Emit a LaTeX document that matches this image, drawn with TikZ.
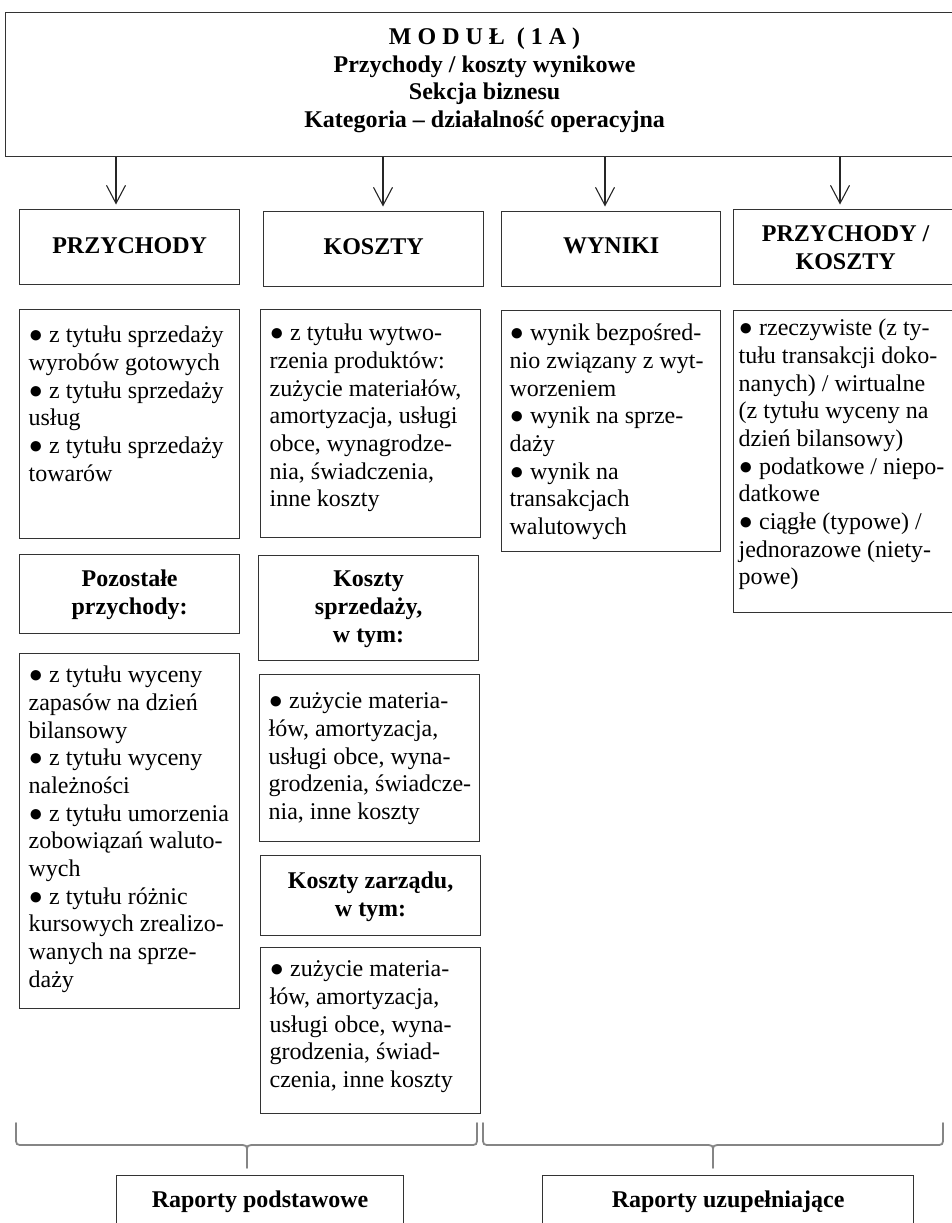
\documentclass[tikz,border=0pt]{standalone}
\usepackage{fontspec}
\setmainfont{Liberation Serif}
\usetikzlibrary{arrows.meta}

\definecolor{linec}{HTML}{333333}
\definecolor{bracec}{HTML}{858585}

% text cells: width, height, first baseline from top, (left pad), text
\newcommand\leftcell[5]{%
  \parbox[t][#2][t]{#1}{\raggedright\leftskip=#4\relax\rule{0pt}{#3}#5}}
\newcommand\midcell[4]{%
  \parbox[t][#2][t]{#1}{\centering\rule{0pt}{#3}#4}}
\newcommand\bul{●~}

\begin{document}
\begin{tikzpicture}[x=1pt,y=-1pt,
  frame/.style={draw=linec, line width=1.2pt, inner sep=0pt, anchor=north west,
                font=\fontsize{24}{27.7}\selectfont},
  head/.style={frame, font=\fontsize{24}{27.7}\selectfont\bfseries},
  arr/.style={draw=black!85, line width=1.1pt, shorten >=4.5pt,
              -{Straight Barb[length=18pt,width=19pt,line width=1.1pt]}},
  brace/.style={draw=bracec, line width=1.8pt, line cap=round}]
\useasboundingbox (0,0) rectangle (951,1223);

% module header
\node[head] (top) at (5,12) {\midcell{958pt}{144pt}{32pt}{%
  M O D U Ł \ ( 1 A )\\
  Przychody / koszty wynikowe\\
  Sekcja biznesu\\
  Kategoria – działalność operacyjna}};

% category headers
\node[head] (h1) at (19,209) {\midcell{220pt}{75pt}{44pt}{PRZYCHODY}};
\node[head] (h2) at (263,211) {\midcell{220pt}{75pt}{43pt}{KOSZTY}};
\node[head] (h3) at (501,211) {\midcell{219pt}{75pt}{42pt}{WYNIKI}};
\node[head] (h4) at (733,209) {\midcell{224pt}{75pt}{32pt}{PRZYCHODY /\\KOSZTY}};

% arrows from the module header
\coordinate (a1) at (116,0);
\coordinate (a2) at (383,0);
\coordinate (a3) at (605,0);
\coordinate (a4) at (840,0);
\draw[arr] (top.south -| a1) -- (h1.north -| a1);
\draw[arr] (top.south -| a2) -- (h2.north -| a2);
\draw[arr] (top.south -| a3) -- (h3.north -| a3);
\draw[arr] (top.south -| a4) -- (h4.north -| a4);

% column 1
\node[frame] (b1) at (19,309) {\leftcell{220pt}{229pt}{33pt}{9pt}{%
  \bul z tytułu sprzedaży\\
  wyrobów gotowych\\
  \bul z tytułu sprzedaży\\
  usług\\
  \bul z tytułu sprzedaży\\
  towarów}};
\node[head] (s1) at (19,554) {\midcell{220pt}{79pt}{32pt}{Pozostałe\\przychody:}};
\node[frame] (b5) at (19,653) {\leftcell{220pt}{355pt}{29pt}{9pt}{%
  \bul z tytułu wyceny\\
  zapasów na dzień\\
  bilansowy\\
  \bul z tytułu wyceny\\
  należności\\
  \bul z tytułu umorzenia\\
  zobowiązań waluto-\\
  wych\\
  \bul z tytułu różnic\\
  kursowych zrealizo-\\
  wanych na sprze-\\
  daży}};

% column 2
\node[frame] (b2) at (260,309) {\leftcell{220pt}{228pt}{31pt}{9pt}{%
  \bul z tytułu wytwo-\\
  rzenia produktów:\\
  zużycie materiałów,\\
  amortyzacja, usługi\\
  obce, wynagrodze-\\
  nia, świadczenia,\\
  inne koszty}};
\node[head] (s2) at (258,555) {\midcell{220pt}{105pt}{31pt}{Koszty\\sprzedaży,\\w tym:}};
\node[frame] (b6) at (259,674) {\leftcell{220pt}{167pt}{34pt}{9pt}{%
  \bul zużycie materia-\\
  łów, amortyzacja,\\
  usługi obce, wyna-\\
  grodzenia, świadcze-\\
  nia, inne koszty}};
\node[head] (s3) at (260,855) {\midcell{220pt}{80pt}{33pt}{Koszty zarządu,\\w tym:}};
\node[frame] (b7) at (260,947) {\leftcell{220pt}{166pt}{29pt}{9pt}{%
  \bul zużycie materia-\\
  łów, amortyzacja,\\
  usługi obce, wyna-\\
  grodzenia, świad-\\
  czenia, inne koszty}};

% column 3
\node[frame] (b3) at (501,310) {\leftcell{219pt}{241pt}{30pt}{8pt}{%
  \bul wynik bezpośred-\\
  nio związany z wyt-\\
  worzeniem\\
  \bul wynik na sprze-\\
  daży\\
  \bul wynik na\\
  transakcjach\\
  walutowych}};

% column 4
\node[frame] (b4) at (733,310) {\leftcell{224pt}{302pt}{25pt}{5pt}{%
  \bul rzeczywiste (z ty-\\
  tułu transakcji doko-\\
  nanych) / wirtualne\\
  (z tytułu wyceny na\\
  dzień bilansowy)\\
  \bul podatkowe / niepo-\\
  datkowe\\
  \bul ciągłe (typowe) /\\
  jednorazowe (niety-\\
  powe)}};

% braces grouping the columns
\coordinate (t1) at (247,1168);
\coordinate (t2) at (713,1168);
\draw[brace] (16,1123) -- (16,1137) .. controls (16,1145) .. (24,1145)
  -- (238,1145) .. controls (247,1145) .. (247,1152) -- (t1);
\draw[brace] (477,1123) -- (477,1137) .. controls (477,1145) .. (469,1145)
  -- (256,1145) .. controls (247,1145) .. (247,1152);
\draw[brace] (483,1123) -- (483,1137) .. controls (483,1145) .. (491,1145)
  -- (704,1145) .. controls (713,1145) .. (713,1152) -- (t2);
\draw[brace] (943,1123) -- (943,1137) .. controls (943,1145) .. (935,1145)
  -- (722,1145) .. controls (713,1145) .. (713,1152);

% reports
\node[head] (r1) at (116,1175) {\midcell{287pt}{60pt}{32pt}{Raporty podstawowe}};
\node[head] (r2) at (542,1175) {\midcell{371pt}{60pt}{32pt}{Raporty uzupełniające}};
\end{tikzpicture}
\end{document}
